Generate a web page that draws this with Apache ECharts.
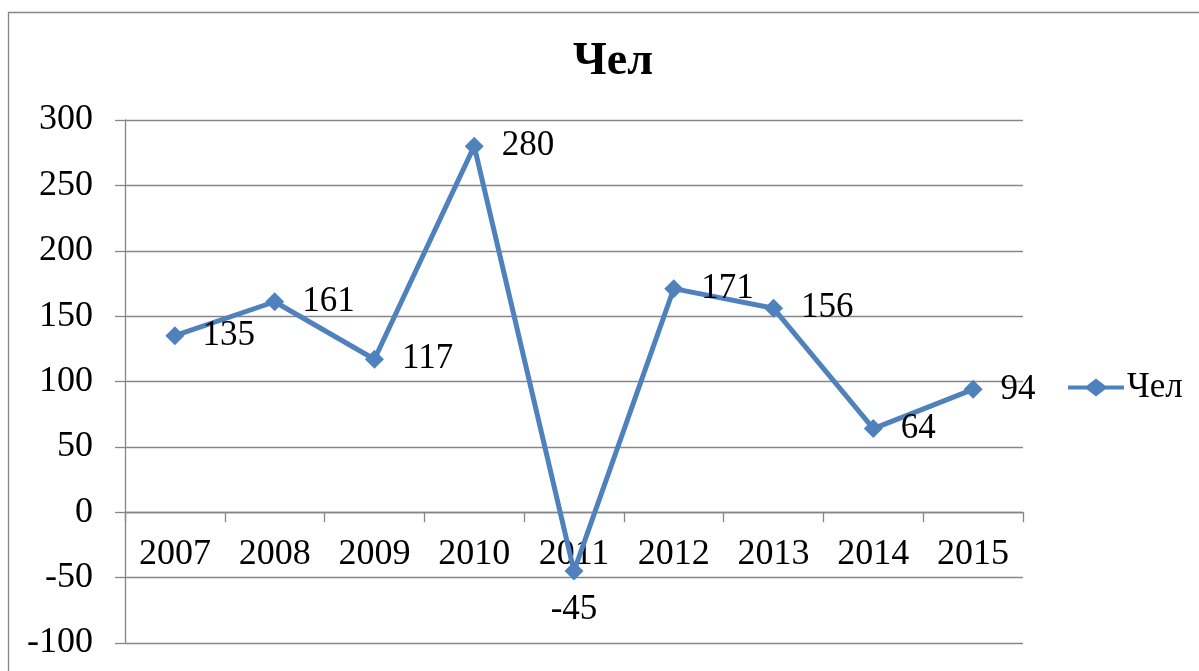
<!DOCTYPE html>
<html>
  <head>
    <meta charset="utf-8" />
    <title>Чел</title>
    <script src="https://cdn.jsdelivr.net/npm/echarts@6/dist/echarts.min.js"></script>
    <style>
      * {
        margin: 0;
        padding: 0;
        box-sizing: border-box;
      }
      body {
        background: #fff;
      }
    </style>
  </head>
  <body>
    <div id="main" style="width: 1199px; height: 671px"></div>
    <script type="text/javascript">
      const years = ["2007", "2008", "2009", "2010", "2011", "2012", "2013", "2014", "2015"];
      const people = [135, 161, 117, 280, -45, 171, 156, 64, 94];
      const seriesName = "Чел";
      const yTicks = { min: -100, max: 300, step: 50 };

      var myChart = echarts.init(document.getElementById("main"));
      const font = "'Liberation Serif', serif";
      const gray = "#868686";
      const blue = "#4f81bd";

      const gridTop = 120;
      const gridBottom = 28;
      const gridHeight = 671 - gridTop - gridBottom;
      // category axis sits on the zero line, as in the Excel chart
      const zeroOffset = -((0 - yTicks.min) / (yTicks.max - yTicks.min)) * gridHeight;

      var option = {
        backgroundColor: "#fff",
        animation: false,
        title: {
          text: seriesName,
          left: 608,
          textAlign: "center",
          top: 34,
          textStyle: {
            fontFamily: font,
            fontSize: 46,
            fontWeight: "bold",
            color: "#000",
          },
        },
        legend: {
          data: [seriesName],
          left: 1063,
          top: 365,
          itemWidth: 56,
          itemHeight: 18,
          itemGap: 5,
          icon: "path://M0,7H19L28,0L37,7H56V11H37L28,18L19,11H0Z",
          itemStyle: { color: blue },
          textStyle: {
            fontFamily: font,
            fontSize: 35,
            color: "#000",
            padding: [0, 0, 0, -2],
          },
        },
        // frame round the whole chart
        graphic: [
          {
            type: "rect",
            shape: { x: 8.5, y: 12.5, width: 1400, height: 1000 },
            style: { fill: "none", stroke: gray, lineWidth: 1.3 },
            silent: true,
          },
        ],
        grid: {
          left: 125,
          right: 176,
          top: gridTop,
          bottom: gridBottom,
          containLabel: false,
          outerBoundsMode: "none",
        },
        xAxis: {
          type: "category",
          data: years,
          boundaryGap: true,
          offset: zeroOffset,
          axisLine: { onZero: false, lineStyle: { color: gray, width: 1.3 } },
          axisTick: {
            show: true,
            interval: 0,
            length: 10,
            lineStyle: { color: gray, width: 1.3 },
          },
          axisLabel: {
            interval: 0,
            margin: 24,
            fontFamily: font,
            fontSize: 36,
            color: "#000",
          },
          splitLine: { show: false },
        },
        yAxis: {
          type: "value",
          min: yTicks.min,
          max: yTicks.max,
          interval: yTicks.step,
          axisLine: { show: true, lineStyle: { color: gray, width: 1.3 } },
          axisTick: {
            show: true,
            length: 10,
            lineStyle: { color: gray, width: 1.3 },
          },
          axisLabel: {
            margin: 32,
            fontFamily: font,
            fontSize: 36,
            color: "#000",
          },
          splitLine: { lineStyle: { color: gray, width: 1.3 } },
        },
        series: [
          {
            name: seriesName,
            type: "line",
            data: people.map((v) =>
              v < 0
                ? { value: v, label: { position: "bottom", distance: 12 } }
                : v
            ),
            symbol: "diamond",
            symbolSize: 19,
            lineStyle: { color: blue, width: 5 },
            itemStyle: { color: blue },
            label: {
              show: true,
              position: "right",
              distance: 18,
              fontFamily: font,
              fontSize: 35,
              color: "#000",
            },
          },
        ],
      };

      myChart.setOption(option);
    </script>
  </body>
</html>
